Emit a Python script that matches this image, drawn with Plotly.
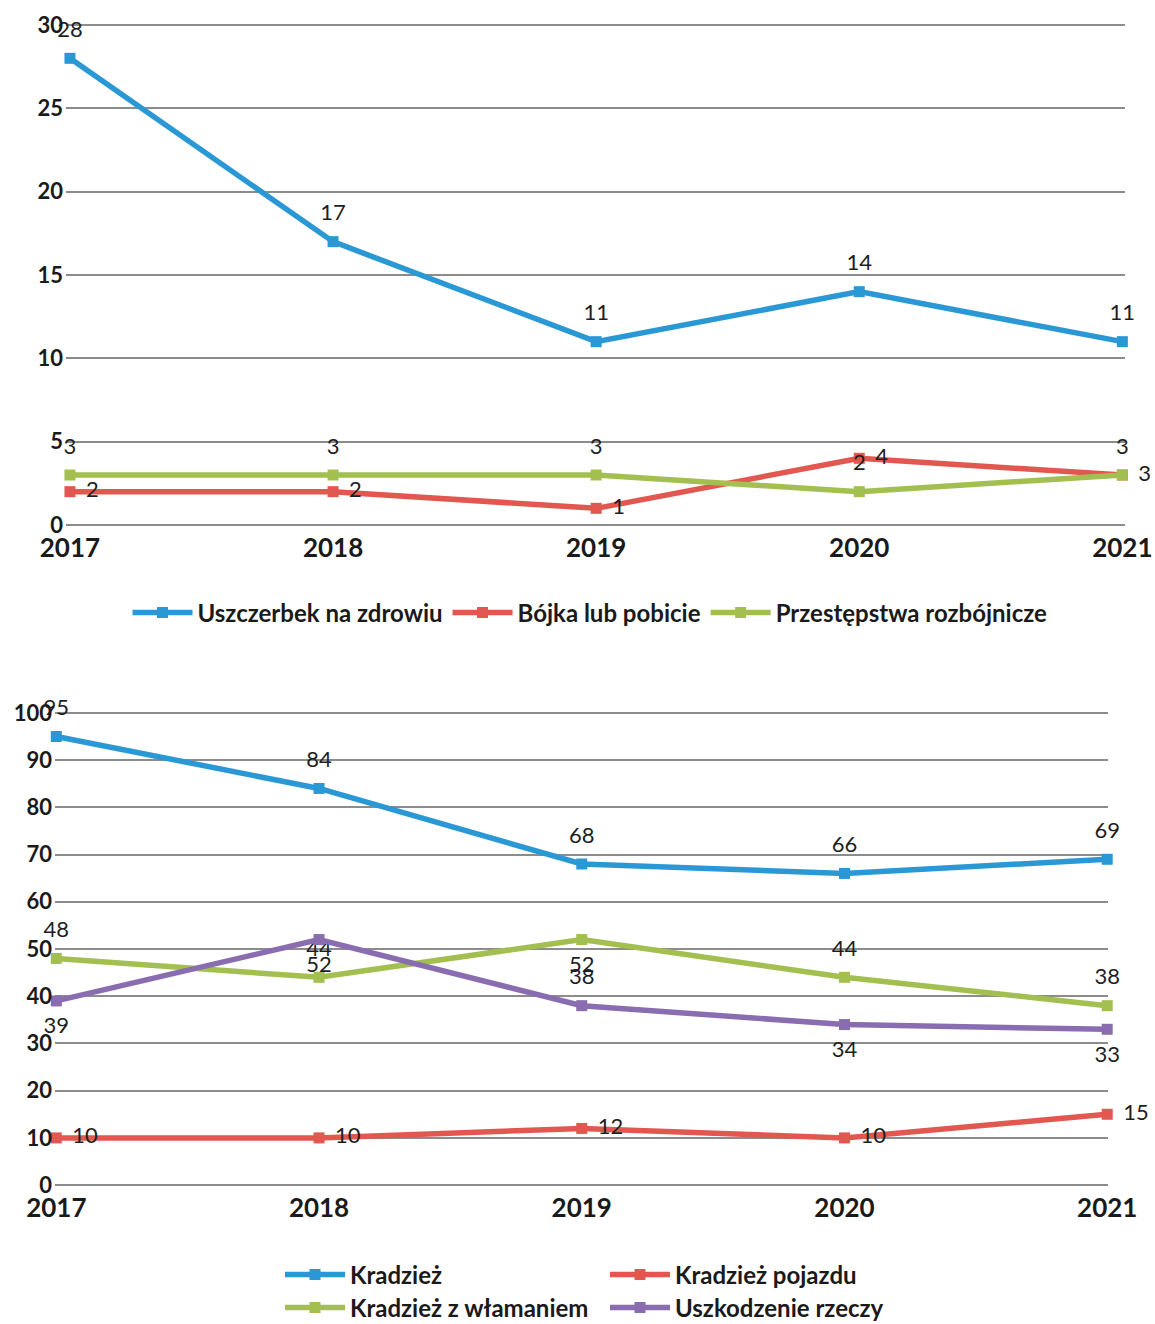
import plotly.graph_objects as go

years = [2017, 2018, 2019, 2020, 2021]

# Top chart
uszczerbek = [28, 17, 11, 14, 11]
bojka = [2, 2, 1, 4, 3]
rozbojnicze = [3, 3, 3, 2, 3]
top_yticks = [0, 5, 10, 15, 20, 25, 30]

# Bottom chart
kradziez = [95, 84, 68, 66, 69]
pojazdu = [10, 10, 12, 10, 15]
wlamanie = [48, 44, 52, 44, 38]
uszkodzenie = [39, 52, 38, 34, 33]
bot_yticks = [0, 10, 20, 30, 40, 50, 60, 70, 80, 90, 100]

BLUE = '#2B98D6'
RED = '#E2574F'
GREEN = '#A2BF50'
PURPLE = '#8A6DB0'
GRID = '#8c8c8c'
FONT = 'Lato'
W, H = 1155, 1324

fig = go.Figure()

def add_series(name, vals, color, xa, ya, legend, textpos):
    fig.add_trace(go.Scatter(
        x=years, y=vals, name=name, mode='lines+markers',
        line=dict(color=color, width=5.5),
        marker=dict(symbol='square', size=11, color=color),
        xaxis=xa, yaxis=ya, legend=legend, cliponaxis=False))
    fig.add_trace(go.Scatter(
        x=years, y=vals, mode='markers+text', text=[str(v) for v in vals],
        marker=dict(size=24, color='rgba(0,0,0,0)'),
        textposition=textpos, textfont=dict(family=FONT, size=22, color='#1e1e1e'),
        xaxis=xa, yaxis=ya, showlegend=False, cliponaxis=False, hoverinfo='skip'))

add_series('Uszczerbek na zdrowiu', uszczerbek, BLUE, 'x', 'y', 'legend', 'top center')
add_series('Bójka lub pobicie', bojka, RED, 'x', 'y', 'legend', 'middle right')
add_series('Przestępstwa rozbójnicze', rozbojnicze, GREEN, 'x', 'y', 'legend', 'top center')

add_series('Kradzież', kradziez, BLUE, 'x2', 'y2', 'legend2', 'top center')
add_series('Kradzież pojazdu', pojazdu, RED, 'x2', 'y2', 'legend2', 'middle right')
add_series('Kradzież z włamaniem', wlamanie, GREEN, 'x2', 'y2', 'legend3',
           ['top center', 'top center', 'bottom center', 'top center', 'top center'])
add_series('Uszkodzenie rzeczy', uszkodzenie, PURPLE, 'x2', 'y2', 'legend3',
           ['bottom center', 'bottom center', 'top center', 'bottom center', 'bottom center'])

def px_x(p):
    return p / W

def px_y(p):
    return 1 - p / H

axis_font = dict(family=FONT, size=22, color='#1a1a1a', weight='bold')
xaxis_font = dict(family=FONT, size=26, color='#1a1a1a', weight='bold')
leg_font = dict(family=FONT, size=24, color='#1a1a1a', weight='bold')

fig.update_layout(
    width=W, height=H,
    margin=dict(l=0, r=0, t=0, b=0, autoexpand=False),
    paper_bgcolor='white', plot_bgcolor='white',
    xaxis=dict(domain=[px_x(66), px_x(1125)], range=[2016.985, 2021.01],
               tickvals=years, ticktext=[str(y) for y in years],
               showgrid=False, zeroline=False, showline=False, automargin=False,
               tickfont=xaxis_font, anchor='y', ticklabelstandoff=3),
    yaxis=dict(domain=[px_y(527), px_y(23)], range=[-0.12, 30.12],
               tickvals=top_yticks, showgrid=True, gridcolor=GRID, gridwidth=1.5,
               zeroline=False, showline=False, tickfont=axis_font, automargin=False,
               anchor='x', ticklabelstandoff=2),
    xaxis2=dict(domain=[px_x(55), px_x(1108)], range=[2016.995, 2021.003],
                tickvals=years, ticktext=[str(y) for y in years],
                showgrid=False, zeroline=False, showline=False, automargin=False,
                tickfont=xaxis_font, anchor='y2', ticklabelstandoff=3),
    yaxis2=dict(domain=[px_y(1187), px_y(711)], range=[-0.4, 100.4],
                tickvals=bot_yticks, showgrid=True, gridcolor=GRID, gridwidth=1.5,
                zeroline=False, showline=False, tickfont=axis_font, automargin=False,
                anchor='x2', ticklabelstandoff=2),
    legend=dict(orientation='h', x=px_x(590), y=px_y(613), xanchor='center', yanchor='middle',
                font=leg_font, itemwidth=60, bgcolor='rgba(0,0,0,0)'),
    legend2=dict(orientation='h', x=px_x(280), y=px_y(1275), xanchor='left', yanchor='middle',
                 font=leg_font, itemwidth=60, entrywidth=250, entrywidthmode='pixels',
                 bgcolor='rgba(0,0,0,0)'),
    legend3=dict(orientation='h', x=px_x(280), y=px_y(1308), xanchor='left', yanchor='middle',
                 font=leg_font, itemwidth=60, entrywidth=250, entrywidthmode='pixels',
                 bgcolor='rgba(0,0,0,0)'),
    showlegend=True,
)

fig.write_html('out.html', config={'displayModeBar': False},
               post_script="document.body.style.margin='0';document.body.style.overflow='hidden';")
